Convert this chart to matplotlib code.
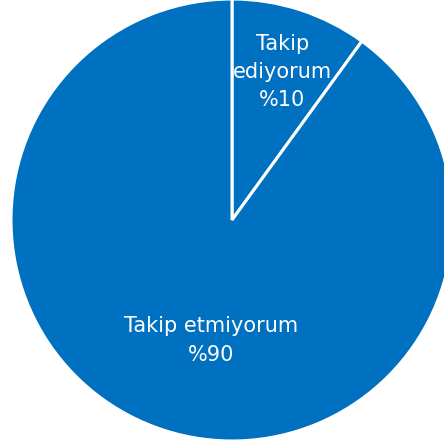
import matplotlib.pyplot as plt

labels = ["Takip ediyorum", "Takip etmiyorum"]
shares = [10, 90]

BLUE = "#0070C0"

fig = plt.figure(figsize=(4.44, 4.48), dpi=100)
ax = fig.add_axes([0, 0, 1, 1])

wedges, _ = ax.pie(shares, colors=[BLUE, BLUE], startangle=90, counterclock=False,
                   radius=1.0, wedgeprops=dict(edgecolor="white", linewidth=2.2))

# label text: name over percentage, placed inside each wedge
label_pos = [(0.228, 0.67), (-0.095, -0.545)]
for lab, val, (x, y) in zip(labels, shares, label_pos):
    if val < 50:
        txt = lab.replace(" ", "\n") + "\n%" + str(val)
    else:
        txt = lab + "\n%" + str(val)
    ax.text(x, y, txt, ha="center", va="center", color="white", fontsize=15,
            linespacing=1.52)

# pixel-matched view: centre at (232, 220), radius 221 px
ppu = 221.0
ax.set_xlim(-232 / ppu, (444 - 232) / ppu)
ax.set_ylim(-(448 - 220) / ppu, 220 / ppu)
ax.set_aspect("auto")
ax.axis("off")

fig.savefig("out.png", dpi=100)
